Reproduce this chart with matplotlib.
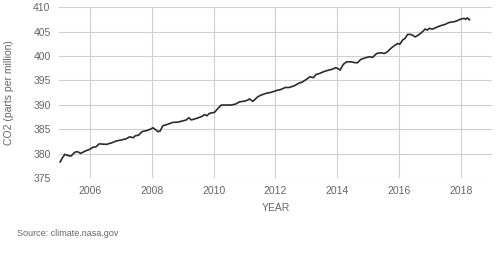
import matplotlib
matplotlib.use("Agg")
import matplotlib.pyplot as plt

# values (decimal year, ppm)
years = [2005.04, 2005.12, 2005.19, 2005.30, 2005.39, 2005.52, 2005.60, 2005.71, 2005.84,
         2006.00, 2006.10, 2006.20, 2006.30, 2006.41, 2006.54, 2006.70, 2006.86,
         2007.02, 2007.18, 2007.29, 2007.40, 2007.47, 2007.58, 2007.69, 2007.83, 2007.96,
         2008.04, 2008.15, 2008.20, 2008.27, 2008.36, 2008.53, 2008.69, 2008.85,
         2009.00, 2009.12, 2009.20, 2009.28, 2009.44, 2009.60, 2009.71, 2009.78, 2009.87,
         2010.03, 2010.14, 2010.25, 2010.41, 2010.57, 2010.71, 2010.84,
         2011.00, 2011.10, 2011.16, 2011.27, 2011.43, 2011.54, 2011.70, 2011.86,
         2012.02, 2012.18, 2012.32, 2012.45, 2012.61, 2012.75, 2012.88,
         2013.01, 2013.12, 2013.23, 2013.31, 2013.42, 2013.51, 2013.61, 2013.72, 2013.85, 2013.94,
         2014.01, 2014.09, 2014.19, 2014.30, 2014.44, 2014.55, 2014.65, 2014.76, 2014.90,
         2015.03, 2015.14, 2015.27, 2015.41, 2015.52, 2015.62, 2015.73, 2015.84, 2015.95,
         2016.02, 2016.11, 2016.19, 2016.27, 2016.38, 2016.52, 2016.65, 2016.75, 2016.84, 2016.91, 2016.97,
         2017.08, 2017.20, 2017.34, 2017.48, 2017.61, 2017.77, 2017.87, 2017.99,
         2018.10, 2018.15, 2018.20, 2018.27]
co2 = [378.3, 379.2, 379.85, 379.6, 379.5, 380.3, 380.4, 380.05, 380.5,
       380.9, 381.3, 381.4, 382.0, 381.95, 381.9, 382.2, 382.6,
       382.8, 383.05, 383.45, 383.25, 383.65, 383.8, 384.5, 384.7, 385.0,
       385.3, 384.8, 384.5, 384.6, 385.7, 386.05, 386.4, 386.45,
       386.7, 386.9, 387.35, 386.9, 387.2, 387.55, 388.0, 387.75, 388.25,
       388.45, 389.25, 389.95, 389.95, 389.95, 390.15, 390.6,
       390.75, 390.95, 391.2, 390.7, 391.65, 392.0, 392.35, 392.55,
       392.9, 393.15, 393.55, 393.55, 393.9, 394.4, 394.7,
       395.25, 395.75, 395.55, 396.2, 396.4, 396.65, 396.9, 397.1, 397.3, 397.6,
       397.45, 397.1, 398.25, 398.8, 398.8, 398.65, 398.6, 399.3, 399.6,
       399.85, 399.7, 400.5, 400.65, 400.5, 400.85, 401.55, 402.1, 402.55,
       402.4, 403.25, 403.6, 404.4, 404.4, 403.9, 404.4, 404.95, 405.5, 405.3, 405.65,
       405.5, 405.85, 406.2, 406.45, 406.85, 407.0, 407.2, 407.55,
       407.7, 407.5, 407.8, 407.4]

xticks = [2006, 2008, 2010, 2012, 2014, 2016, 2018]
yticks = [375, 380, 385, 390, 395, 400, 405, 410]

plt.rcParams['font.family'] = ['Liberation Sans', 'DejaVu Sans']
txt = '#666666'

fig = plt.figure(figsize=(4.99, 2.54), dpi=100)
ax = fig.add_axes([0.118, 0.299, 0.868, 0.673])

ax.plot(years, co2, color='#2b2b2b', lw=1.2, solid_joinstyle='round')

ax.set_xlim(2005, 2019)
ax.set_ylim(375, 410)
ax.set_xticks(xticks)
ax.set_yticks(yticks)
ax.grid(True, color='#d0d0d0', lw=0.8)
ax.set_axisbelow(True)
for s in ax.spines.values():
    s.set_visible(False)
ax.tick_params(length=0, labelsize=7.5, labelcolor=txt, pad=6)

ax.set_xlabel('YEAR', fontsize=7.5, color=txt, labelpad=5)
ax.set_ylabel('CO2 (parts per million)', fontsize=7.5, color=txt, labelpad=14)

fig.text(0.034, 0.071, 'Source: climate.nasa.gov', fontsize=6.5, color=txt)

fig.savefig('out.png', dpi=100)
